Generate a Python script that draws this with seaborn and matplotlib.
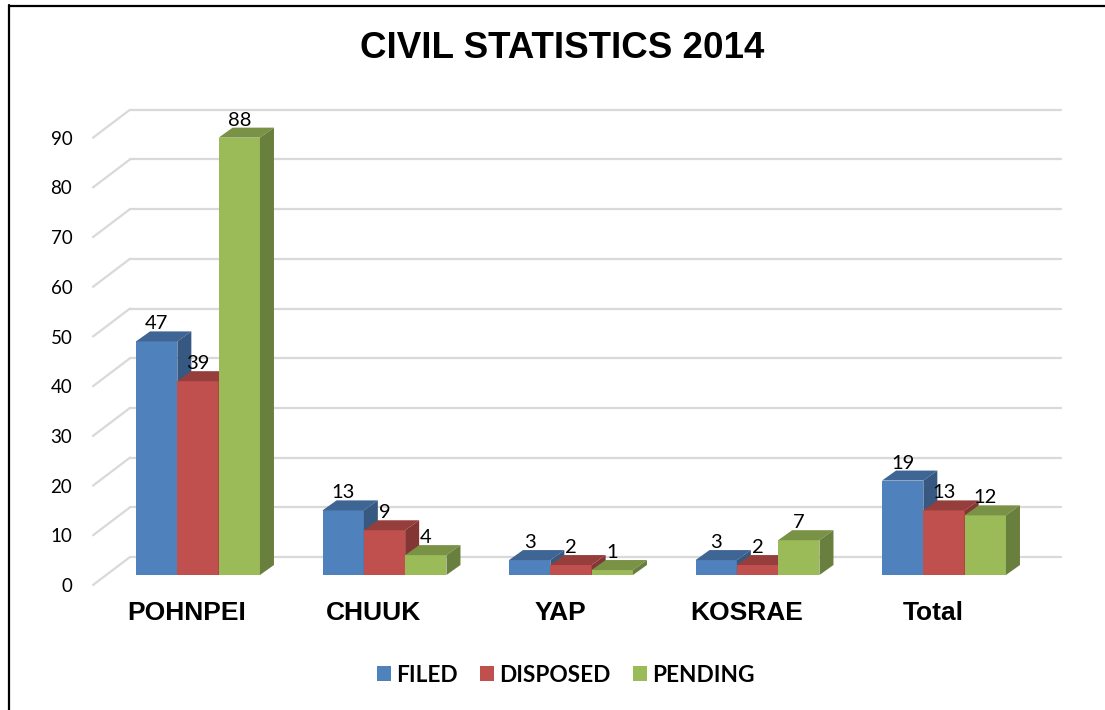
import matplotlib
matplotlib.use("Agg")
import matplotlib.pyplot as plt
import matplotlib.colors as mcolors
from matplotlib.patches import Polygon, Patch
from matplotlib.lines import Line2D
import seaborn as sns
import pandas as pd

# ---- data ----
categories = ["POHNPEI", "CHUUK", "YAP", "KOSRAE", "Total"]
filed = [47, 13, 3, 3, 19]
disposed = [39, 9, 2, 2, 13]
pending = [88, 4, 1, 7, 12]
series_names = ["FILED", "DISPOSED", "PENDING"]
y_ticks = [0, 10, 20, 30, 40, 50, 60, 70, 80, 90]
title = "CIVIL STATISTICS 2014"

colors = ["#4F81BD", "#C0504D", "#9BBB59"]

df = pd.DataFrame({
    "Region": categories * 3,
    "Cases": filed + disposed + pending,
    "Type": [series_names[0]] * 5 + [series_names[1]] * 5 + [series_names[2]] * 5,
})

sns.set_style("white")
plt.rcParams["font.family"] = ["Liberation Sans", "DejaVu Sans"]
plt.rcParams["text.color"] = "black"
plt.rcParams["xtick.color"] = "black"
plt.rcParams["ytick.color"] = "black"

W, H = 1105, 710
fig = plt.figure(figsize=(W / 100, H / 100), dpi=100)

# axes geometry (pixels) for the bar front plane
px_x = 186.5                 # pixels per category unit
px_y = 4.97                  # pixels per value unit
ax_left_px, ax_right_px = 107, 1038
base_px = 575                # pixel row of value 0
ylo, yhi = -5, 95
xlo = -(198 - ax_left_px) / px_x
xhi = xlo + (ax_right_px - ax_left_px) / px_x
bottom_px = base_px - ylo * px_y
ax = fig.add_axes([ax_left_px / W, (H - bottom_px) / H,
                   (ax_right_px - ax_left_px) / W, (yhi - ylo) * px_y / H])
ax.set_facecolor("none")

sns.barplot(data=df, x="Region", y="Cases", hue="Type", palette=colors,
            hue_order=series_names, order=categories, width=0.6645,
            saturation=1, errorbar=None, legend=False, ax=ax, linewidth=0)

ax.set_xlim(xlo, xhi)
ax.set_ylim(ylo, yhi)
for s in ax.spines.values():
    s.set_visible(False)
ax.grid(False)
ax.set_xlabel("")
ax.set_ylabel("")

def dxu(p):
    return p / px_x

def dyu(p):
    return p / px_y

# back wall gridlines + side wall diagonals
grid_c = "#D9D9D9"
for v in y_ticks:
    ax.add_line(Line2D([xlo + dxu(23), xhi + dxu(23)], [v + dyu(18), v + dyu(18)],
                       color=grid_c, lw=1.6, zorder=0.5, clip_on=False))
    ax.add_line(Line2D([xlo - dxu(14), xlo + dxu(23)], [v - dyu(10), v + dyu(18)],
                       color=grid_c, lw=1.6, zorder=0.5, clip_on=False))

# 3D faces for bars
bdx, bdy = dxu(14), dyu(10)
for i, cont in enumerate(ax.containers):
    base = mcolors.to_rgb(colors[i])
    top_c = tuple(c * 0.78 for c in base)
    side_c = tuple(c * 0.68 for c in base)
    for p in cont.patches:
        p.set_zorder(2 + 2 * i)
        p.set_edgecolor("none")
        xl = p.get_x()
        xr = xl + p.get_width()
        h = p.get_height()
        top = Polygon([(xl, h), (xl + bdx, h + bdy), (xr + bdx, h + bdy), (xr, h)],
                      closed=True, facecolor=top_c, edgecolor="none", zorder=3 + 2 * i)
        side = Polygon([(xr, 0), (xr, h), (xr + bdx, h + bdy), (xr + bdx, bdy)],
                       closed=True, facecolor=side_c, edgecolor="none", zorder=3 + 2 * i)
        ax.add_patch(top)
        ax.add_patch(side)
        ax.annotate(f"{int(h)}", xy=(xl + p.get_width() / 2, h), xytext=(0, 12),
                    textcoords="offset pixels", ha="center", va="baseline",
                    fontsize=14.5, family=["Lato", "DejaVu Sans"], color="black",
                    zorder=10)

# ticks (placed on the front floor plane)
ax.set_xticks([k - dxu(11) for k in range(len(categories))], labels=categories)
ax.set_yticks([v - dyu(10) for v in y_ticks], labels=[str(v) for v in y_ticks])
ax.tick_params(axis="x", length=0, pad=0.5, labelsize=19)
ax.tick_params(axis="y", length=0, pad=25, labelsize=13.5)
for lab in ax.get_xticklabels():
    lab.set_fontweight("bold")
for lab in ax.get_yticklabels():
    lab.set_family(["Lato", "DejaVu Sans"])

# title
fig.text(562 / W, 1 - 48 / H, title, ha="center", va="center",
         fontsize=26.5, fontweight="bold", color="black")

# legend
handles = [Patch(facecolor=c, edgecolor="none", label=n) for c, n in zip(colors, series_names)]
fig.legend(handles=handles, loc="center", bbox_to_anchor=(566 / W, 1 - 675 / H),
           ncol=3, frameon=False, handlelength=0.62, handleheight=0.62,
           handletextpad=0.22, columnspacing=1.0,
           prop={"family": ["Lato", "DejaVu Sans"], "weight": "bold", "size": 16.3})

# outer frame (left and top)
fig.add_artist(Line2D([8.5 / W, 8.5 / W], [0, 1 - 5 / H], color="black", lw=1.6,
                      transform=fig.transFigure))
fig.add_artist(Line2D([8.5 / W, 1], [1 - 5.5 / H, 1 - 5.5 / H], color="black", lw=1.6,
                      transform=fig.transFigure))

fig.savefig("out.png", dpi=100, facecolor="white")
